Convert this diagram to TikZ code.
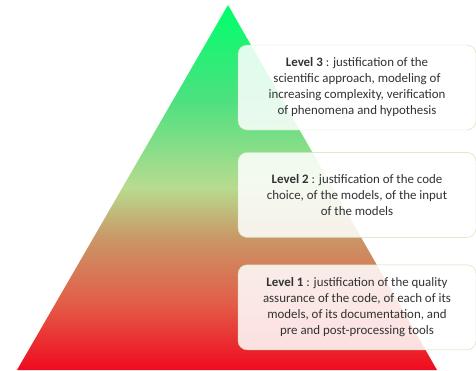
\documentclass[tikz,border=0pt]{standalone}
\usepackage{fontspec}
\setmainfont{Carlito}
\usetikzlibrary{positioning}

\definecolor{textgray}{RGB}{50,50,50}
\definecolor{boxline}{RGB}{200,226,180}

% green at the top, red at the base
\pgfdeclareverticalshading{pyramid}{100bp}{
    rgb(0bp)=(0.94,0.04,0.12);
    rgb(25bp)=(0.94,0.04,0.12);
    rgb(34bp)=(0.89,0.36,0.28);
    rgb(43bp)=(0.79,0.59,0.40);
    rgb(50bp)=(0.72,0.86,0.56);
    rgb(62bp)=(0.30,0.88,0.50);
    rgb(75bp)=(0.00,1.00,0.42);
    rgb(100bp)=(0.00,1.00,0.42)}

\tikzset{
    level-box/.style = {draw=boxline, fill=white, fill opacity=0.86, text opacity=1, thin, rectangle, rounded corners=9pt,
        minimum width=238pt, minimum height=85pt, align=center, text=textgray, font=\fontsize{12.9}{16}\selectfont},
}

\begin{document}
\begin{tikzpicture}[x=1pt, y=-1pt]
\useasboundingbox (0,0) rectangle (476,370);
\coordinate (apex) at (228,5);
\coordinate (base-left) at (17,370);
\coordinate (base-right) at (437,370);
\shade[shading=pyramid] (apex) -- (base-right) -- (base-left) -- cycle;

\node[level-box] (level3) at (357,87.5) {\textbf{Level 3} : justification of the\\
    scientific approach, modeling of\\ increasing complexity, verification\\ of phenomena and hypothesis};
\node[level-box, below=22pt of level3] (level2) {\textbf{Level 2} : justification of the code\\
    choice, of the models, of the input\\ of the models};
\node[level-box, below=27pt of level2] (level1) {\textbf{Level 1} : justification of the quality\\
    assurance of the code, of each of its\\ models, of its documentation, and\\ pre and post-processing tools};
\end{tikzpicture}
\end{document}
